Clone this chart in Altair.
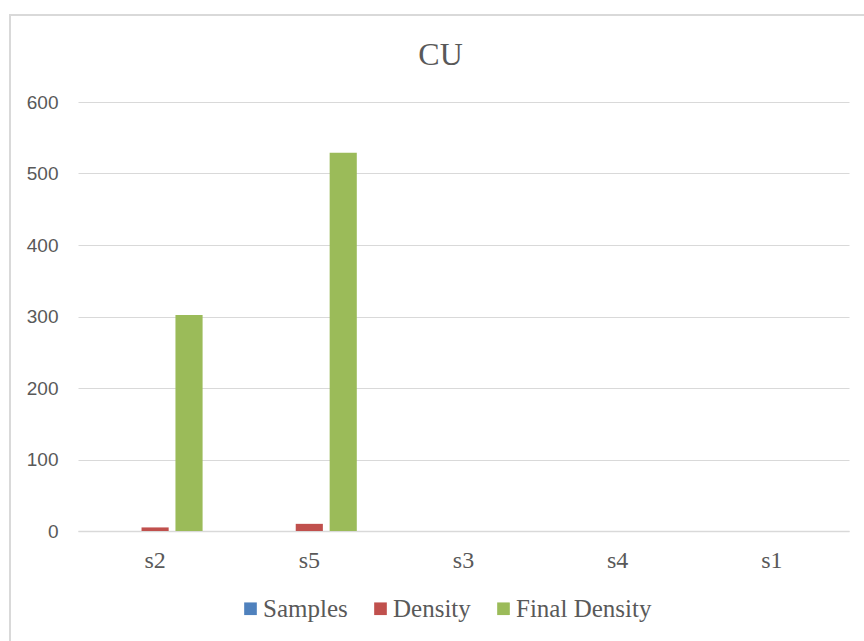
import altair as alt
import pandas as pd

# Sample groups along the x axis, in display order
categories = ["s2", "s5", "s3", "s4", "s1"]

# Series values per group
samples = [0, 0, 0, 0, 0]
density = [5, 10, 0, 0, 0]
final_density = [302, 529, 0, 0, 0]

series_names = ["Samples", "Density", "Final Density"]
series_colors = ["#4F81BD", "#C0504D", "#9BBB59"]

rows = []
for name, values in zip(series_names, [samples, density, final_density]):
    for cat, v in zip(categories, values):
        rows.append({"group": cat, "series": name, "value": v})
df = pd.DataFrame(rows)

GREY_TEXT = "#595959"
GRID = "#d9d9d9"

bars = alt.Chart(df).mark_bar().encode(
    x=alt.X(
        "group:N",
        sort=categories,
        title=None,
        scale=alt.Scale(paddingInner=0.384, paddingOuter=0.192),
        axis=alt.Axis(
            labelAngle=0,
            labelFont="Liberation Serif",
            labelFontSize=24,
            labelColor=GREY_TEXT,
            labelPadding=17,
            ticks=False,
            domain=True,
            domainColor=GRID,
            domainWidth=1.5,
            grid=False,
        ),
    ),
    xOffset=alt.XOffset(
        "series:N",
        sort=series_names,
        scale=alt.Scale(paddingInner=0.2, paddingOuter=0),
    ),
    y=alt.Y(
        "value:Q",
        title=None,
        scale=alt.Scale(domain=[0, 600], nice=False),
        axis=alt.Axis(
            values=[0, 100, 200, 300, 400, 500, 600],
            labelFont="Liberation Sans",
            labelFontSize=19,
            labelColor=GREY_TEXT,
            labelPadding=20,
            ticks=False,
            domain=False,
            gridColor=GRID,
            gridWidth=1.2,
        ),
    ),
    color=alt.Color(
        "series:N",
        sort=series_names,
        scale=alt.Scale(domain=series_names, range=series_colors),
        legend=alt.Legend(
            title=None,
            orient="none",
            direction="horizontal",
            legendX=160,
            legendY=494,
            symbolType="square",
            symbolSize=160,
            symbolStrokeWidth=0,
            labelFont="Liberation Serif",
            labelFontSize=25,
            labelColor=GREY_TEXT,
            labelOffset=0,
            columnPadding=20,
            labelLimit=300,
        ),
    ),
)

# Light outer frame around the chart
frame = alt.Chart(pd.DataFrame({"k": [0]})).mark_rect(
    fill=None, stroke=GRID, strokeWidth=2
).encode(
    x=alt.value(-68), x2=alt.value(820), y=alt.value(-87), y2=alt.value(560)
)

chart = alt.layer(frame, bars).properties(
    width=771,
    height=429,
    background="white",
    title=alt.TitleParams(
        "CU",
        font="Liberation Serif",
        fontSize=32,
        fontWeight="normal",
        color=GREY_TEXT,
        anchor="middle",
        dx=-23,
        offset=-58,
    ),
    padding={"left": 78, "top": 102, "right": 15, "bottom": 110},
    autosize=alt.AutoSizeParams(type="none"),
).configure_view(strokeWidth=0, stroke="transparent")

chart.save("out.html", embed_options={"renderer": "svg", "actions": False})
